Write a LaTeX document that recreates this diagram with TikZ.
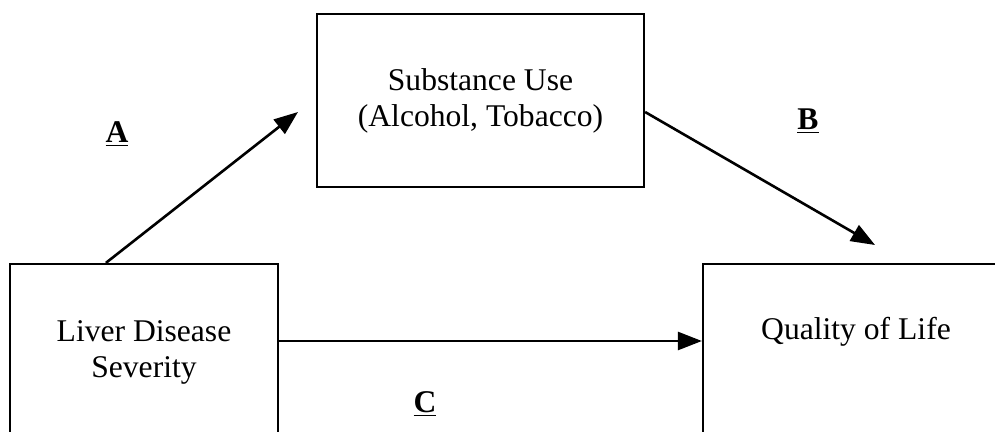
\documentclass[tikz,border=0pt]{standalone}
\usepackage{fontspec}
\setmainfont{Liberation Serif}
\usetikzlibrary{arrows.meta}
\begin{document}
\begin{tikzpicture}[x=0.5pt,y=-0.5pt,
  box/.style={draw, line width=1.1pt, rectangle, inner sep=0pt, align=center,
              font=\fontsize{15.8}{18}\selectfont},
  txt/.style={inner sep=0pt, anchor=base, font=\fontsize{15.8}{18}\selectfont},
  conn/.style={line width=1.3pt, -{Triangle[length=12pt,width=9pt]}},
  lab/.style={font=\fontsize{15.8}{18}\selectfont\bfseries, anchor=base, inner sep=0pt}]
\useasboundingbox (0,0) rectangle (995,432);
\clip (0,0) rectangle (995,432);
% boxes
\node[box, minimum width=163.5pt, minimum height=86.5pt] (sub) at (480.5,100.5)
  {Substance Use\\(Alcohol, Tobacco)};
\node[box, minimum width=134pt, minimum height=88pt] (lds) at (144,352)
  {Liver Disease\\Severity};
\node[box, minimum width=153pt, minimum height=88pt] (qol) at (856,352) {};
\node[txt] (qoltext) at (856,340) {Quality of Life};
% free arrow ends
\coordinate (aEnd) at (298,112);
\coordinate (bEnd) at (875,245);
% connectors
\draw[conn] ([xshift=48.5pt]lds.north west) -- (aEnd);
\draw[conn] ([yshift=-5.75pt]sub.east) -- (bEnd);
\draw[conn] ([yshift=5.5pt]lds.east) -- ([yshift=5.5pt]qol.west);
% labels
\node[lab] (labA) at (117,143) {\underline{A}};
\node[lab] (labB) at (808,130) {\underline{B}};
\node[lab] (labC) at (425,412) {\underline{C}};
\end{tikzpicture}
\end{document}
